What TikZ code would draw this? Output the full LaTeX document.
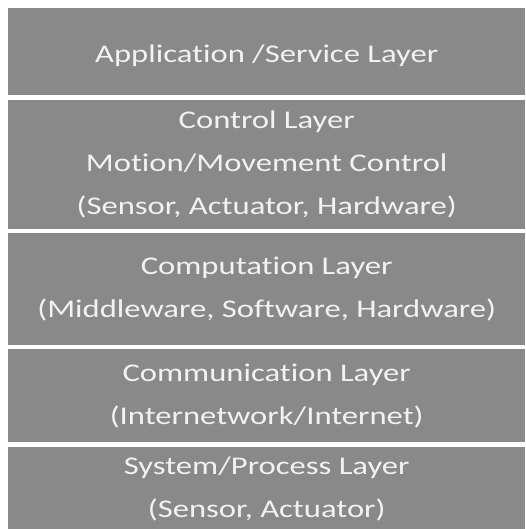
\documentclass[tikz,border=0pt]{standalone}
\usepackage{fontspec}
\newfontfamily\layerfont[FakeStretch=1.28, Ligatures=NoCommon]{Carlito}
\usetikzlibrary{positioning}
\definecolor{layergray}{HTML}{898989}
\definecolor{layertext}{HTML}{F2F2F2}

\begin{document}
\begin{tikzpicture}[
  layer/.style={fill=layergray, text=layertext, align=center, anchor=north west,
    minimum width=517pt, inner sep=0pt,
    font=\layerfont\fontsize{25.5}{43}\selectfont}
]
\useasboundingbox (0,0) rectangle (525pt,-529pt);

% Layers, top to bottom
\node[layer, minimum height=87pt, text height=27pt, text depth=6pt] (app) at (8pt,-8pt) {Application /Service Layer};
\node[layer, minimum height=129pt, below=4pt of app.south west, anchor=north west] (control) {Control Layer\\Motion/Movement Control\\(Sensor, Actuator, Hardware)};
\node[layer, minimum height=112pt, below=4pt of control.south west, anchor=north west] (comp) {Computation Layer\\(Middleware, Software, Hardware)};
\node[layer, minimum height=93pt, below=4pt of comp.south west, anchor=north west] (comm) {Communication Layer\\(Internetwork/Internet)};
\node[layer, minimum height=84pt, below=4pt of comm.south west, anchor=north west] (sys) {System/Process Layer\\(Sensor, Actuator)};

\end{tikzpicture}
\end{document}
